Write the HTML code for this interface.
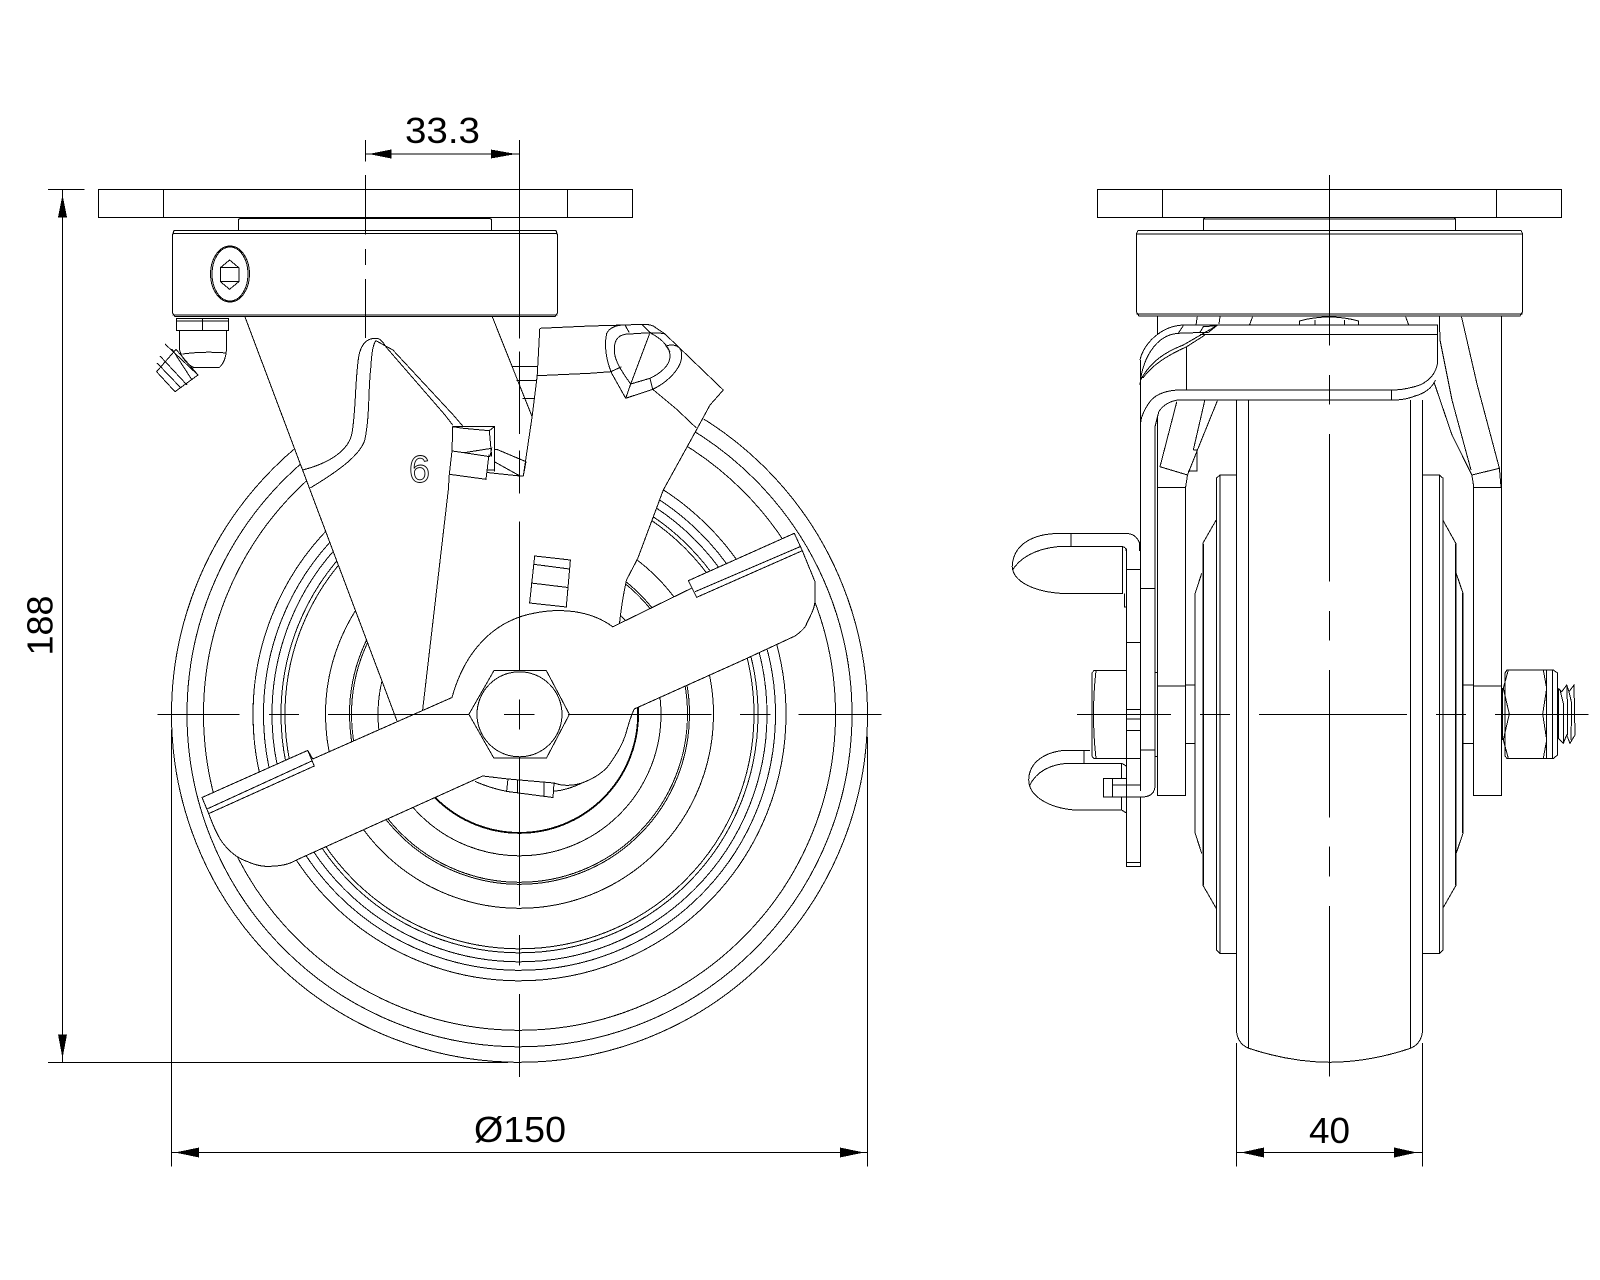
<!DOCTYPE html>
<html><head><meta charset="utf-8"><title>Swivel castor drawing</title>
<style>
html,body{margin:0;padding:0;background:#fff}
svg{display:block}
text{font-family:"Liberation Sans",sans-serif;fill:#000}
.l{fill:none;stroke:#000;stroke-width:1}
.w{fill:#fff;stroke:#000;stroke-width:1}
.n{fill:#fff;stroke:none}
.b{fill:#000;stroke:none}
</style></head>
<body>
<svg width="1600" height="1280" viewBox="0 0 1600 1280" xmlns="http://www.w3.org/2000/svg" shape-rendering="crispEdges">
<rect width="1600" height="1280" fill="#fff"/>

<!-- ===== FRONT VIEW: wheel ===== -->
<g class="l">
<circle cx="519.5" cy="714.3" r="348"/>
<circle cx="519.5" cy="714.3" r="332.5"/>
<circle cx="519.5" cy="714.3" r="316"/>
<circle cx="519.5" cy="714.3" r="266.5"/>
<circle cx="519.5" cy="714.3" r="256"/>
<circle cx="519.5" cy="714.3" r="247.5"/>
<circle cx="519.5" cy="714.3" r="238.5"/>
<circle cx="519.5" cy="714.3" r="234.5"/>
<circle cx="519.5" cy="714.3" r="194"/>
<circle cx="519.5" cy="714.3" r="170"/>
<circle cx="519.5" cy="714.3" r="168"/>
<circle cx="519.5" cy="714.3" r="141.5"/>
<circle cx="519.5" cy="714.3" r="119"/>
<circle cx="519.5" cy="714.3" r="118.2"/>
</g>

<!-- fork mask -->
<polygon class="n" points="245,317 397,722 440,760 620,640 619.4,624 626.5,580 637.8,558 663.3,490 696.4,430 723.5,390 663,333 540,328 492,317"/>

<!-- fork edges -->
<g class="l">
<path d="M244.9 316.7L397 721"/>
<path d="M492.3 316.7L532.1 416.7"/>
<path d="M539.8 328.3L537.2 375.7L532.1 416.7L523.3 476"/>
<path d="M539.8 328.3L590 326L625 325"/>
<path d="M537.2 375.7L590 373.3L610.7 371.7L621.7 366.7"/>
<path d="M511.7 366.7H538M516.3 380.7H536.7M522.4 398.3H534.7"/>
<!-- right plate edge -->
<path d="M625 325L641.7 324.3Q648 324 653.3 326L665 334L723.3 390L710 405L696.4 430L663.3 490L637.8 558.3L626.5 580Q622 600 619.4 624.3"/>
<path d="M650 378.3L652.7 389.3L676.7 409.3L696.4 428"/>
<!-- pear handle -->
<path d="M625.7 398.3L611.7 373.3C606 360 604 345 606.7 333.3C610 327 617 325 625 325L629.3 332.7"/>
<path d="M630.7 384C622 372 614 360 614.3 350C614 338 620 334 629.3 334L650 332.7C660 338 670 346 670 356C670 368 655 376 650 378.3L630.7 384"/>
<path d="M625.7 398.3L652.7 389.3C668 382 682 368 681.7 355C682 347 675 343 666 346L670 351.7"/>
<path d="M650 332.7L630.7 384L625.7 398.3"/>
<path d="M641.7 324.3L650 332.7L661.7 333.3L665 334"/>
<!-- left bent plate -->
<path d="M302.6 470C330 463 349 450 352 433C356 410 355 380 358.7 356.7Q362 338 376 338.3Q381 338 386 347L445 415L452.7 425"/>
<path d="M310.2 488C340 470 360 455 364.8 440C370 415 368 390 370.9 366.7Q372 345 376 340.7L392.9 350L453.3 415L463.3 426.7"/>
<path d="M449.3 474.3L448.3 490L437.8 580L422.4 712"/>
<!-- latch -->
<path d="M452.7 426.7H494.3V471.7"/>
<path d="M452.7 426.7L452 451L449.3 474.3L486 479.3L489 454.3"/>
<path d="M452.7 426.7L463.3 428.3L489.3 430.7L494.3 426.7M489.3 430.7L491.7 456.7"/>
<path d="M452 451L464 452.7L490 456.7M464 452.7L491.7 448.3L490 456.7"/>
<path d="M487.3 470H494.3M487.3 472.5L494.3 473.3L520 476H523.3"/>
<path d="M494.3 449.3H496.7L526 461.7L523.3 476M494.3 461.7L520 476"/>
<!-- pin -->
<path d="M534.7 556L570.4 560L566.3 607L529.6 603Z"/>
<path d="M533.7 564.3L569.4 569M531 583L568 587.5"/>
</g>
<text x="419.5" y="482" font-size="38" text-anchor="middle" style="fill:#fff;stroke:#000;stroke-width:.9">6</text>

<!-- plate -->
<g class="l">
<rect x="98.5" y="189.5" width="534" height="28"/>
<path d="M163.5 189.5V217.5M567.5 189.5V217.5"/>
<path d="M238.5 230.5V219.5L240 218.5H490L491.5 219.5V230.5"/>
<path d="M172.5 313V235L174 230.5H556L557.5 235V313L555 316.5H175Z"/>
<path d="M172.5 233.5H557.5M172.5 315H557.5"/>
<ellipse cx="230" cy="274" rx="19.5" ry="28"/>
<ellipse cx="230" cy="274" rx="18" ry="27"/>
<polygon points="229.6,260 238.8,267.7 238.8,281.7 229.6,289.3 220.4,281.7 220.4,267.7"/>
<path d="M220.4 267.7H238.8M220.4 281.7H238.8"/>
<!-- grease nipple -->
<rect x="176.5" y="318.5" width="52" height="12"/>
<path d="M202.5 318.5V330M176.5 321H228.5"/>
<path d="M179.6 330V350Q183 362 194 367.7H219Q226 362 226.5 348V330"/>
<path d="M182.6 354Q205 351 226.5 353"/>
<polygon points="176,349.3 198,375 175,391.7 156.6,371.7"/>
<path d="M165 344L198 375M172 349L192 380M160 356L187 385M157 363L181 388" />
</g>

<!-- arm -->
<path class="w" d="M612.8 626.8C590 610 560 608 535 613C495 620 465 650 452 697.5L312.8 759L307.7 750.4L202 797.5L208.7 813.6C213 825 218 838 225 845.7C233 855 240 859 248 861.8C255 865 262 866.4 268.4 866.4C280 866 288 865 296.4 860L482.7 776L508 779L554 783C562 786 572 786 582 783C595 778 605 771 610 763.6C618 752 622 745 625.5 735C629 722 631 716 634.2 709L743.3 660L795 636C802 631 806 627 806.7 623.3C812 613 815 607 815 600V581.7L802.3 550.7L794.3 533.3L688.3 580.7L692 588Z"/>
<g class="l">
<path d="M202 797.5L307.7 750.4L314.3 766L208.7 813.6Z"/>
<path d="M207 809L311.7 761"/>
<path d="M688.3 580.7L794.3 533.3L802.3 550.7L696.7 597.3Z"/>
<path d="M695 591.7L800 546.7"/>
<path d="M508 779L554 783L553 797.5L506.6 791.4Z"/>
<path d="M517.3 780V793M543.9 782V796"/>
<path d="M475 781.4Q490 788 506.6 791.4M553 791.4Q568 790 582 783"/>
<!-- hex nut -->
<polygon class="w" points="493.9,670.7 546.4,670.7 569.4,714.3 546.4,758.2 493.9,758.2 468.9,714.3"/>
<ellipse class="w" cx="519.5" cy="714.3" rx="42.5" ry="42.5"/>
</g>

<!-- front centre lines -->
<g class="l">
<path d="M157.7 714.5H239.3M268.9 714.5H299M328 714.5H468.9M504 714.5H534.7M567.9 714.5H711.7M739.8 714.5H770.4M798.5 714.5H881.6"/>
<path d="M519.5 699.3V729.6M519.5 758V905.7M519.5 935V965.4M519.5 994V1076.8"/>
<path d="M519.5 140V338.3M519.5 351.7V434M519.5 450.7V493.3M519.5 521.7V670.7"/>
<path d="M365.5 140V161.7M365.5 175V234.3M365.5 249V265M365.5 279V338"/>
<!-- dims -->
<path d="M365.5 154H519.5"/>
<path d="M48 189.5H84.7M62.5 189.5V1062.5M48.2 1062.5H508"/>
<path d="M171.5 729.6V1166.7M867.5 736.8V1166.7M171.5 1152.5H867.5"/>
</g>
<polygon class="b" points="369,154 391.3,149.5 391.3,158.5"/>
<polygon class="b" points="516,154 490.8,149.5 490.8,158.5"/>
<polygon class="b" points="62.5,195 58,217.3 67,217.3"/>
<polygon class="b" points="62.5,1058.3 58,1034.3 67,1034.3"/>
<polygon class="b" points="175,1152.5 199.2,1147.5 199.2,1157.5"/>
<polygon class="b" points="864,1152.5 839.8,1147.5 839.8,1157.5"/>
<text x="442.5" y="143" font-size="36" text-anchor="middle" textLength="75" lengthAdjust="spacingAndGlyphs">33.3</text>
<text transform="translate(52.7 625.5) rotate(-90)" font-size="36" text-anchor="middle" textLength="60" lengthAdjust="spacingAndGlyphs">188</text>
<text x="520" y="1142" font-size="36" text-anchor="middle" textLength="92" lengthAdjust="spacingAndGlyphs">Ø150</text>
<text x="1329.5" y="1143" font-size="36" text-anchor="middle" textLength="41" lengthAdjust="spacingAndGlyphs">40</text>

<!-- ===== SIDE VIEW ===== -->
<g class="l">
<!-- wheel -->
<path d="M1236.5 400V1031.7Q1238 1044 1248.8 1048.3Q1290 1062 1329.5 1062.3Q1370 1062 1410.3 1048.3Q1421 1044 1422.5 1031.7V400"/>
<path d="M1248.5 400V1048M1410.5 400V1048"/>
<!-- hub -->
<path d="M1236.5 475H1220L1216.5 478V950L1220 953.5H1236.5"/>
<path d="M1220 475V953.5"/>
<path d="M1422.5 475H1439.3L1442.8 478V950L1439.3 953.5H1422.5"/>
<path d="M1439.3 475V953.5"/>
<path d="M1216.2 520L1202.8 543.3V885L1216.2 908.3"/>
<path d="M1201.7 573.3L1195.2 593.3V833.3L1201.7 853.3"/>
<path d="M1442.8 520L1456.2 544V885L1442.8 908.3"/>
<path d="M1456.2 573.3L1463 593.3V833.3L1456.2 853.3"/>
<path d="M1203.5 544V885M1455.5 544V885M1462.5 593V833"/>
<path d="M1185.6 685H1195M1185.6 743.5H1195M1463 685H1473.8M1463 743.5H1473.8"/>
<!-- fork legs -->
<rect x="1157.5" y="487.5" width="28" height="308"/>
<rect x="1473.5" y="487.5" width="28" height="308"/>
<path d="M1157.5 686H1185.5M1473.5 686H1501.5"/>
<path d="M1157.5 316.7V487.5M1501.5 316.7V487.5"/>
<!-- right taper -->
<path d="M1461.5 316.7L1477 384L1499.4 468.3L1501 487"/>
<path d="M1439.3 316.7L1440 340L1452 400L1471 470"/>
<path d="M1434.4 383.3L1452 435L1471.9 475L1473.8 487.3"/>
<path d="M1471.9 475L1499.4 468.3"/>
<!-- left taper -->
<path d="M1176.8 401.7L1160 466.7L1187.5 475L1185.6 487.3"/>
<path d="M1204.7 400.7L1193.3 450"/>
<path d="M1217.4 400.7L1197 451L1187.5 475"/>
<path d="M1193.3 450H1197V471H1188"/>
<path d="M1197.3 316.7L1196 325M1220 316.7L1219 324M1252.6 316.7L1249.5 325M1405.6 316.7L1408.7 325"/>
<!-- small bolt -->
<path d="M1299.3 325V321Q1329 313 1358.6 321V325M1314.8 320V325M1344.4 320V325"/>
</g>

<!-- bracket -->
<path class="w" d="M1140 791V385V360Q1143 345 1158.3 333.3Q1170 326 1183.3 325H1437.5V363.3Q1435 378 1420 385Q1405 390 1392.3 390Q1410 400 1394 400H1178Q1165 402 1158.8 411.7L1155 426.7V785Q1155 797 1141.6 797Z" style="stroke:none"/>
<g class="l">
<path d="M1183.3 325H1437.5V363.3Q1435 378 1420 385Q1405 390 1392.3 390H1178Q1160 391 1151.2 400Q1142 412 1140.8 421.7"/>
<path d="M1200 334.5H1437.5"/>
<path d="M1186.5 346.7V390M1391.5 390V400"/>
<path d="M1435.5 380Q1430 392 1415 396Q1405 400 1394 400H1178Q1165 402 1158.8 411.7L1155 426.7V785Q1155 797 1141.6 797H1103.3V778.3H1126.3"/>
<path d="M1140 360C1143 345 1160 326 1183.3 325"/>
<path d="M1140 385C1142 360 1155 335 1178.3 333.3L1200 332.5"/>
<path d="M1140.7 380C1150 362 1165 352 1183.3 345L1215 326.7"/>
<path d="M1143 378C1152 365 1168 355 1186.7 346.7L1205 335"/>
<path d="M1200 332.3L1203.3 326.7L1216.7 325.7L1208 332.7Z"/>
<path d="M1178.3 333.3L1183.3 325.7"/>
<path d="M1140.5 360V791"/>
<path d="M1112.5 778.3V797M1112.5 785H1126.3"/>
<!-- plate between -->
<path d="M1126.5 548.3V866.5H1140.5V797"/>
<path d="M1126.5 862.3H1140.5"/>
<path d="M1126.5 569.3H1140.5M1126.5 642.3H1140.5M1126.5 709.3H1140.5M1126.5 719H1140.5M1126.5 730.7H1140.5M1126.5 758.7H1140.5M1126.5 785H1140.5"/>
<path d="M1140.5 588.3H1155M1140.5 750H1155M1155 672.7H1157.3M1155 756.7H1157.3"/>
<!-- upper handle -->
<path d="M1057.4 533.5H1126.3Q1136 533.5 1139.7 543.3V551"/>
<path d="M1057.4 533.5C1035 534 1013 543 1012.2 566.7C1013 582 1035 592 1063 593.5H1122.5V546.7"/>
<path d="M1012.6 570C1020 558 1035 549 1057.4 546.7H1122.5"/>
<path d="M1126.3 551Q1126 547 1122.5 546.7"/>
<path d="M1070.8 533.5V546.7M1124.5 593.5V607H1126.3"/>
<!-- hex bolt left -->
<path d="M1126.3 670.7H1094L1091.8 673V756L1094 758.7H1126.3"/>
<path d="M1096 670.7Q1091 714 1096 758.7"/>
<!-- lower handle -->
<path d="M1090 750.3H1065C1045 752 1029 762 1028.7 780C1029 797 1050 808 1074.6 810H1121.7L1126.3 813"/>
<path d="M1029.5 785.7C1036 772 1050 764 1068.9 763.3H1121.7V778M1121.7 797V810"/>
<path d="M1084.2 750V763.3M1121.7 763.3L1126.3 766"/>
<!-- right nut -->
<path d="M1505 673L1507 670H1553.3L1557.5 673V755L1553.3 758.5H1507L1505 756Z"/>
<path d="M1546.7 670V758.5M1552.3 670V758.5"/>
<path d="M1508.3 670L1503.3 688.3L1509.3 714L1503.3 740L1508.3 758.3"/>
<path d="M1543.3 670L1546.7 688.3L1542.7 714L1546.7 740L1543.3 758.3"/>
<path d="M1502.5 688V740"/>
<!-- thread -->
<path d="M1558.3 688.3L1561.7 691.7L1566.7 685L1569 691.7L1574 685L1575 735L1570 743.3L1566.7 735L1563.3 743.3L1558.3 738.3V688.3"/>
<path d="M1560 690L1563.3 703.3V726.7L1563.3 743.3M1566.7 685L1567.7 710V735M1569 691.7L1571.7 703.3L1571 740"/>
<!-- bearing & plate -->
<rect class="w" x="1136.5" y="233.5" width="386" height="81" style="stroke:none"/>
<path d="M1136.5 312V233.5L1138 230.5H1521L1522.5 233.5V312L1520 316H1139Z"/>
<path d="M1136.5 234H1522.5M1136.5 314H1522.5"/>
<path d="M1203.5 230.5V219L1205 217.5H1454L1455.5 219V230.5"/>
<path d="M1204 219H1455"/>
<rect x="1097.5" y="189.5" width="464" height="28"/>
<path d="M1162.5 189.5V217.5M1496.5 189.5V217.5"/>
<!-- centre lines -->
<path d="M1329.5 175V345.3M1329.5 375V404.3M1329.5 434V581.7M1329.5 611V640.7M1329.5 670V817.7M1329.5 846.7V876.7M1329.5 906V1076.7"/>
<path d="M1076.9 714.5H1171M1200 714.5H1230M1259 714.5H1407M1435.9 714.5H1466M1495.2 714.5H1588.6"/>
<!-- 40 dim -->
<path d="M1236.5 1043V1166.7M1422.5 1043V1166.7M1236.5 1152.5H1422.5"/>
</g>
<polygon class="b" points="1241,1152.5 1264,1147.5 1264,1157.5"/>
<polygon class="b" points="1417,1152.5 1394.2,1147.5 1394.2,1157.5"/>
</svg>
</body></html>
